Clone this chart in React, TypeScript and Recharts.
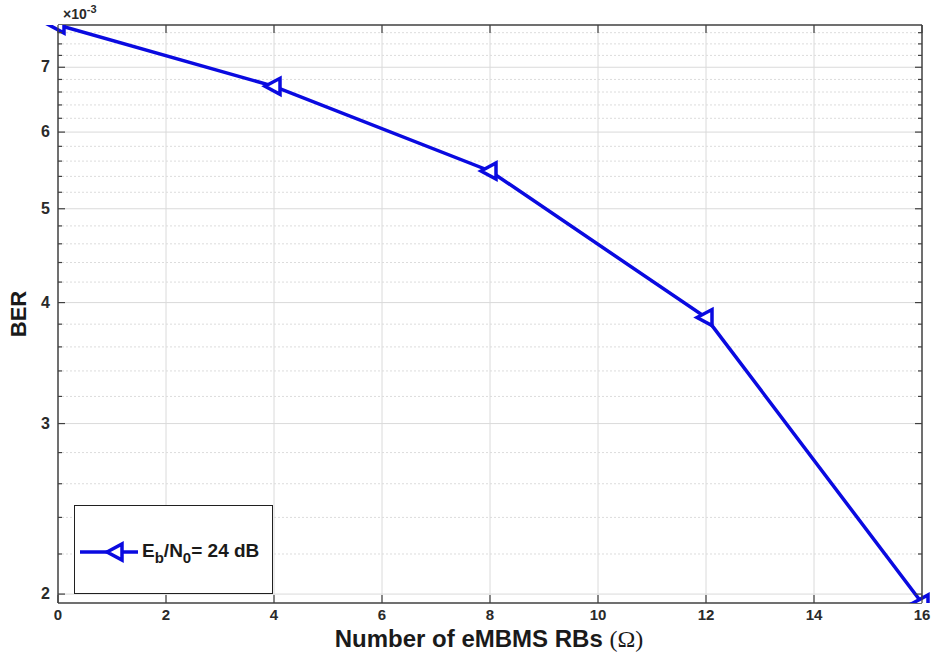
import { LineChart, Line, XAxis, YAxis, ReferenceLine } from 'recharts'

// BER vs. number of eMBMS resource blocks, Eb/N0 = 24 dB
const rbCounts = [0, 4, 8, 12, 16]
const berValues = [7.74e-3, 6.69e-3, 5.47e-3, 3.86e-3, 1.958e-3]

const xTicks = [0, 2, 4, 6, 8, 10, 12, 14, 16]
const xGrid = [2, 4, 6, 8, 10, 12, 14]
const yMajor = [2e-3, 3e-3, 4e-3, 5e-3, 6e-3, 7e-3]
const yMinor = [
  2.2e-3, 2.4e-3, 2.6e-3, 2.8e-3,
  3.2e-3, 3.4e-3, 3.6e-3, 3.8e-3,
  4.2e-3, 4.4e-3, 4.6e-3, 4.8e-3,
  5.2e-3, 5.4e-3, 5.6e-3, 5.8e-3,
  6.2e-3, 6.4e-3, 6.6e-3, 6.8e-3,
  7.2e-3, 7.4e-3, 7.6e-3,
]
const yDomain = [1.958e-3, 7.74e-3]

const data = rbCounts.map((rb, i) => ({ rb, ber: berValues[i] }))

const W = 932
const H = 655
const M = { top: 25, right: 10, bottom: 0, left: 0 }
const Y_AXIS_W = 58
const X_AXIS_H = 52
const PLOT_W = W - M.left - M.right - Y_AXIS_W
const PLOT_H = H - M.top - M.bottom - X_AXIS_H

const BLUE = '#0a0ae0'
const AXIS = '#404040'
const FONT = '"Liberation Sans", Arial, Helvetica, sans-serif'

function BerTick({ x, y, payload }: any) {
  const major = yMajor.includes(payload.value)
  const len = major ? 7 : 4
  return (
    <g>
      <line x1={x} x2={x + len} y1={y} y2={y} stroke={AXIS} strokeWidth={1.2} />
      <line x1={x + PLOT_W} x2={x + PLOT_W - len} y1={y} y2={y} stroke={AXIS} strokeWidth={1.2} />
      {major && (
        <text x={x - 8} y={y} dy={5} textAnchor="end" fontFamily={FONT} fontWeight="bold" fontSize={16} fill="#2a2a2a">
          {Math.round(payload.value * 1000)}
        </text>
      )}
    </g>
  )
}

function RbTick({ x, y, payload }: any) {
  return (
    <g>
      <line x1={x} x2={x} y1={y} y2={y - 8} stroke={AXIS} strokeWidth={1.2} />
      <line x1={x} x2={x} y1={y - PLOT_H} y2={y - PLOT_H + 8} stroke={AXIS} strokeWidth={1.2} />
      <text x={x} y={y + 17} textAnchor="middle" fontFamily={FONT} fontWeight="bold" fontSize={15} fill="#2a2a2a">
        {payload.value}
      </text>
    </g>
  )
}

// MATLAB-style '<' marker
function LeftTriangle({ cx, cy }: any) {
  if (cx == null || cy == null) return null
  const pts = `${cx - 9},${cy} ${cx + 6},${cy - 8} ${cx + 6},${cy + 8}`
  return <polygon points={pts} fill="#ffffff" stroke={BLUE} strokeWidth={3.5} strokeLinejoin="miter" />
}

function LegendBox() {
  return (
    <svg width={199} height={89} style={{ display: 'block' }}>
      <rect x={0.5} y={0.5} width={198} height={88} fill="#ffffff" stroke="#202020" strokeWidth={1} />
      <line x1={6} x2={64} y1={47} y2={47} stroke={BLUE} strokeWidth={3.5} />
      <polygon points="33,47 48,39 48,55" fill="#ffffff" stroke={BLUE} strokeWidth={3.5} />
      <text x={68} y={52} fontFamily={FONT} fontWeight="bold" fontSize={19} fill="#1a1a1a">
        E
        <tspan dy={6} fontSize={15}>b</tspan>
        <tspan dy={-6}>/N</tspan>
        <tspan dy={6} fontSize={15}>0</tspan>
        <tspan dy={-6}>= 24 dB</tspan>
      </text>
    </svg>
  )
}

export default function App() {
  return (
    <div style={{ position: 'absolute', left: 0, top: 0, width: W, height: H, background: '#ffffff' }}>
      <LineChart width={W} height={H} data={data} margin={M}>
        <XAxis
          dataKey="rb"
          type="number"
          domain={[0, 16]}
          ticks={xTicks}
          interval={0}
          height={X_AXIS_H}
          tickSize={0}
          tickMargin={0}
          tickLine={false}
          tick={<RbTick />}
          axisLine={{ stroke: AXIS, strokeWidth: 1.5 }}
        />
        <YAxis
          dataKey="ber"
          scale="log"
          domain={yDomain}
          allowDataOverflow
          ticks={[...yMajor, ...yMinor]}
          interval={0}
          width={Y_AXIS_W}
          tickSize={0}
          tickMargin={0}
          tickLine={false}
          tick={<BerTick />}
          axisLine={{ stroke: AXIS, strokeWidth: 1.5 }}
        />
        {xGrid.map((v) => (
          <ReferenceLine key={`gx${v}`} x={v} stroke="#dadada" strokeWidth={1} />
        ))}
        {yMinor.map((v) => (
          <ReferenceLine key={`gm${v}`} y={v} stroke="#dcdcdc" strokeWidth={1} strokeDasharray="2 2" />
        ))}
        {yMajor.map((v) => (
          <ReferenceLine key={`gy${v}`} y={v} stroke="#dadada" strokeWidth={1} />
        ))}
        <ReferenceLine y={yDomain[1]} stroke={AXIS} strokeWidth={1.5} />
        <ReferenceLine x={16} stroke={AXIS} strokeWidth={1.5} />
        <Line
          dataKey="ber"
          stroke={BLUE}
          strokeWidth={3.5}
          dot={<LeftTriangle />}
          activeDot={false}
          isAnimationActive={false}
        />
        <text x={63} y={19} fontFamily={FONT} fontWeight="bold" fontSize={14} fill="#2a2a2a">
          ×10<tspan dy={-6} fontSize={11}>-3</tspan>
        </text>
        <text x={489} y={647} textAnchor="middle" fontFamily={FONT} fontWeight="bold" fontSize={24} fill="#1a1a1a">
          Number of eMBMS RBs <tspan fontFamily='"Liberation Serif", serif' fontWeight="normal">(Ω)</tspan>
        </text>
        <text x={26} y={314} transform="rotate(-90 26 314)" textAnchor="middle" fontFamily={FONT} fontWeight="bold" fontSize={22} fill="#1a1a1a">
          BER
        </text>
      </LineChart>
      <div style={{ position: 'absolute', left: 74, top: 505 }}>
        <LegendBox />
      </div>
    </div>
  )
}
